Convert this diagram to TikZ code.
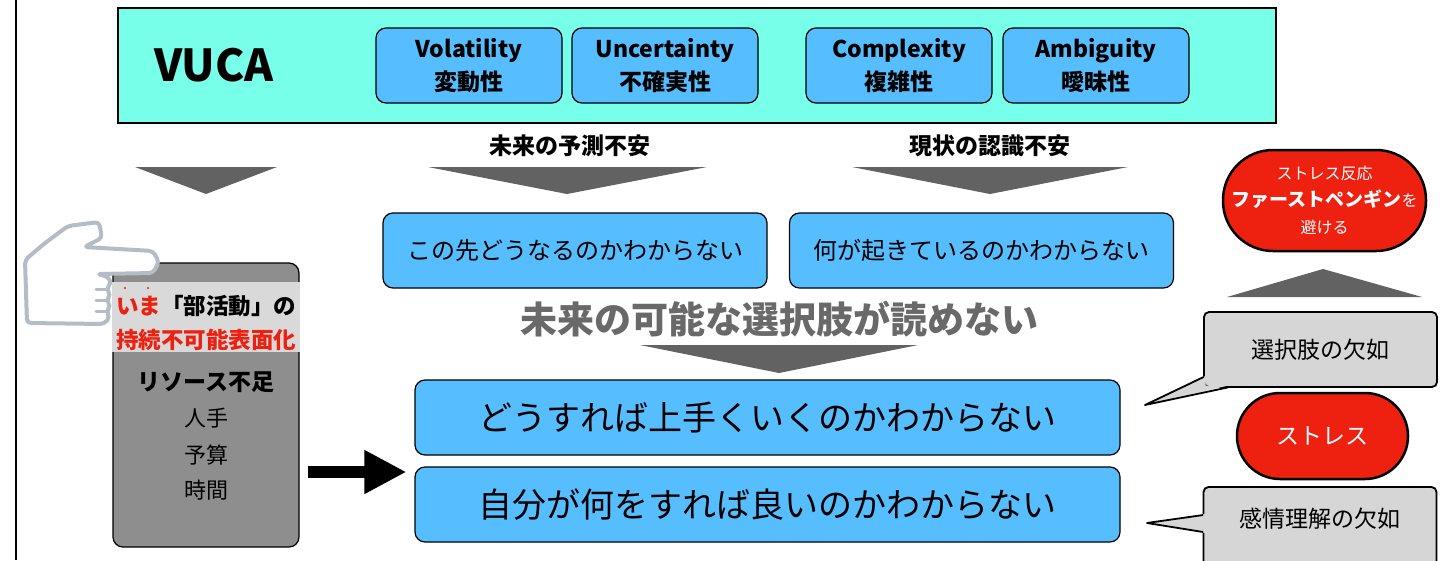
\documentclass[tikz,border=0pt]{standalone}
\usepackage{fontspec}
\setmainfont{Noto Sans CJK JP}
\usetikzlibrary{arrows.meta}
\definecolor{mint}{RGB}{120,255,233}
\definecolor{skyb}{RGB}{86,190,255}
\definecolor{tri}{RGB}{98,98,98}
\definecolor{resgray}{RGB}{142,142,142}
\definecolor{band}{RGB}{217,217,217}
\definecolor{callgray}{RGB}{214,214,214}
\definecolor{alert}{RGB}{238,33,16}
\definecolor{handline}{RGB}{180,188,198}
\definecolor{bigtxt}{RGB}{105,105,105}
\newcommand{\sz}[2]{\fontsize{#1}{#2}\selectfont}
\begin{document}
\begin{tikzpicture}[x=1pt,y=-1pt,
  vbox/.style={draw,line width=1.2,fill=skyb,rounded corners=10,minimum width=186,minimum height=75,inner sep=0,align=center,font=\sz{23}{33}\bfseries},
  rowbox/.style={draw,line width=1.2,fill=skyb,rounded corners=10,minimum width=384,minimum height=75,inner sep=0,font=\sz{24}{30}},
  bigbox/.style={draw,line width=1.2,fill=skyb,rounded corners=10,minimum width=705,minimum height=75,inner sep=0,font=\sz{34}{40}},
  pill/.style={draw,line width=2.5,fill=alert,text=white,inner sep=0,align=center},
  callbox/.style={draw,line width=1.8,fill=callgray,rounded corners=5,minimum width=233,inner sep=0},
  tag/.style={font=\sz{23}{28}\bfseries},
  down/.style={fill=tri},
  fat/.style={line width=12,-{Triangle[length=42pt,width=41pt]}}]
\useasboundingbox (0,0) rectangle (1453,560);
\clip (0,0) rectangle (1453,560);
\draw[line width=1.2] (16,0) -- (16,560);

\node[draw,line width=1.2,fill=mint,minimum width=1158,minimum height=115,inner sep=0] (vuca) at (697,65.5) {};
\node[font=\sz{44}{50}\bfseries] (vucatxt) at (214,65) {VUCA};
\node[vbox] (vol) at (469,65.5) {Volatility\\変動性};
\node[vbox] (unc) at (665,65.5) {Uncertainty\\不確実性};
\node[vbox] (cpx) at (899,65.5) {Complexity\\複雑性};
\node[vbox] (amb) at (1096,65.5) {Ambiguity\\曖昧性};

\node[tag] (fut) at (570,146) {未来の予測不安};
\node[tag] (cur) at (990,146) {現状の認識不安};
\fill[down] (135,167) -- (277,167) -- (206,194) -- cycle;
\fill[down] (428,167) -- (707,167) -- (567,194) -- cycle;
\fill[down] (852,167) -- (1128,167) -- (990,194) -- cycle;

\node[rowbox] (ahead) at (575,250.5) {この先どうなるのかわからない};
\node[rowbox] (happen) at (981.5,250.5) {何が起きているのかわからない};

\node[font=\sz{37}{42}\bfseries,text=bigtxt] (cant) at (779,319) {未来の可能な選択肢が読めない};
\fill[down] (640,345) -- (918,345) -- (779,373) -- cycle;

\node[bigbox] (how) at (767.5,417.5) {どうすれば上手くいくのかわからない};
\node[bigbox] (what) at (767.5,504.5) {自分が何をすれば良いのかわからない};

\node[draw,line width=1.2,fill=resgray,rounded corners=10,minimum width=186,minimum height=284,inner sep=0] (res) at (206,405) {};
\fill[band] (112.4,282) rectangle (299.6,352);
\node[font=\sz{22.5}{28}\bfseries] (now1) at (206,306) {\textcolor{alert}{いま}「部活動」の};
\fill[alert] (125,288) circle (1.1) (148,288) circle (1.1);
\node[font=\sz{22.5}{28}\bfseries,text=alert] (now2) at (206,340) {持続不可能表面化};
\node[font=\sz{23}{28}\bfseries] (lack) at (206,382) {リソース不足};
\node[font=\sz{22}{28}] (ppl) at (206,418) {人手};
\node[font=\sz{22}{28}] (bud) at (206,455) {予算};
\node[font=\sz{22}{28}] (tim) at (206,490) {時間};

\coordinate (arr) at (0,472);
\draw[fat,shorten <=8pt,shorten >=8pt] (res.east |- arr) -- (what.west |- arr);

\node[pill,rounded corners=50,minimum width=203,minimum height=101,font=\sz{16}{27}] (peng) at (1324.5,200.5)
  {ストレス反応\\{\sz{19}{27}\bfseries ファーストペンギン}を\\避ける};
\fill[down] (1227,297) -- (1422,297) -- (1323,269) -- cycle;

\node[callbox,minimum height=75,font=\sz{23}{28}] (nochoice) at (1320.5,349.5) {選択肢の欠如};
\fill[callgray] (1205.5,376) -- (1145,405) -- (1228,385.6) -- (1205.5,385.6) -- cycle;
\draw[line width=1.8,line join=round] (1203.6,377) -- (1145,405) -- (1228,387.4);

\node[pill,rounded corners=43,minimum width=171,minimum height=86,font=\sz{23}{28}] (stress) at (1322.5,436) {ストレス};

\node[callbox,minimum height=116] (nofeel) at (1320,545) {};
\node[font=\sz{23}{28}] (nofeeltxt) at (1320,519) {感情理解の欠如};
\fill[callgray] (1205,514) -- (1147,523) -- (1205,533) -- cycle;
\draw[line width=1.8,line join=round] (1203.1,515) -- (1147,523) -- (1203.1,532);

% pointing hand
\draw[handline,line width=4,fill=white,line join=round,rounded corners=4]
  (27,323) -- (25,260) -- (45,243) -- (68,226) -- (99,222) -- (102,238) -- (84,247)
  -- (153,251) -- (159,262) -- (153,273) -- (97,274) -- (109,277) -- (111,284) -- (106,289)
  -- (111,295) -- (106,300) -- (111,306) -- (106,311) -- (110,317) -- (104,324) -- cycle;
\draw[handline,line width=3,line cap=round] (96,289) -- (106,289) (96,300) -- (106,300) (96,311) -- (106,311);
\end{tikzpicture}
\end{document}
